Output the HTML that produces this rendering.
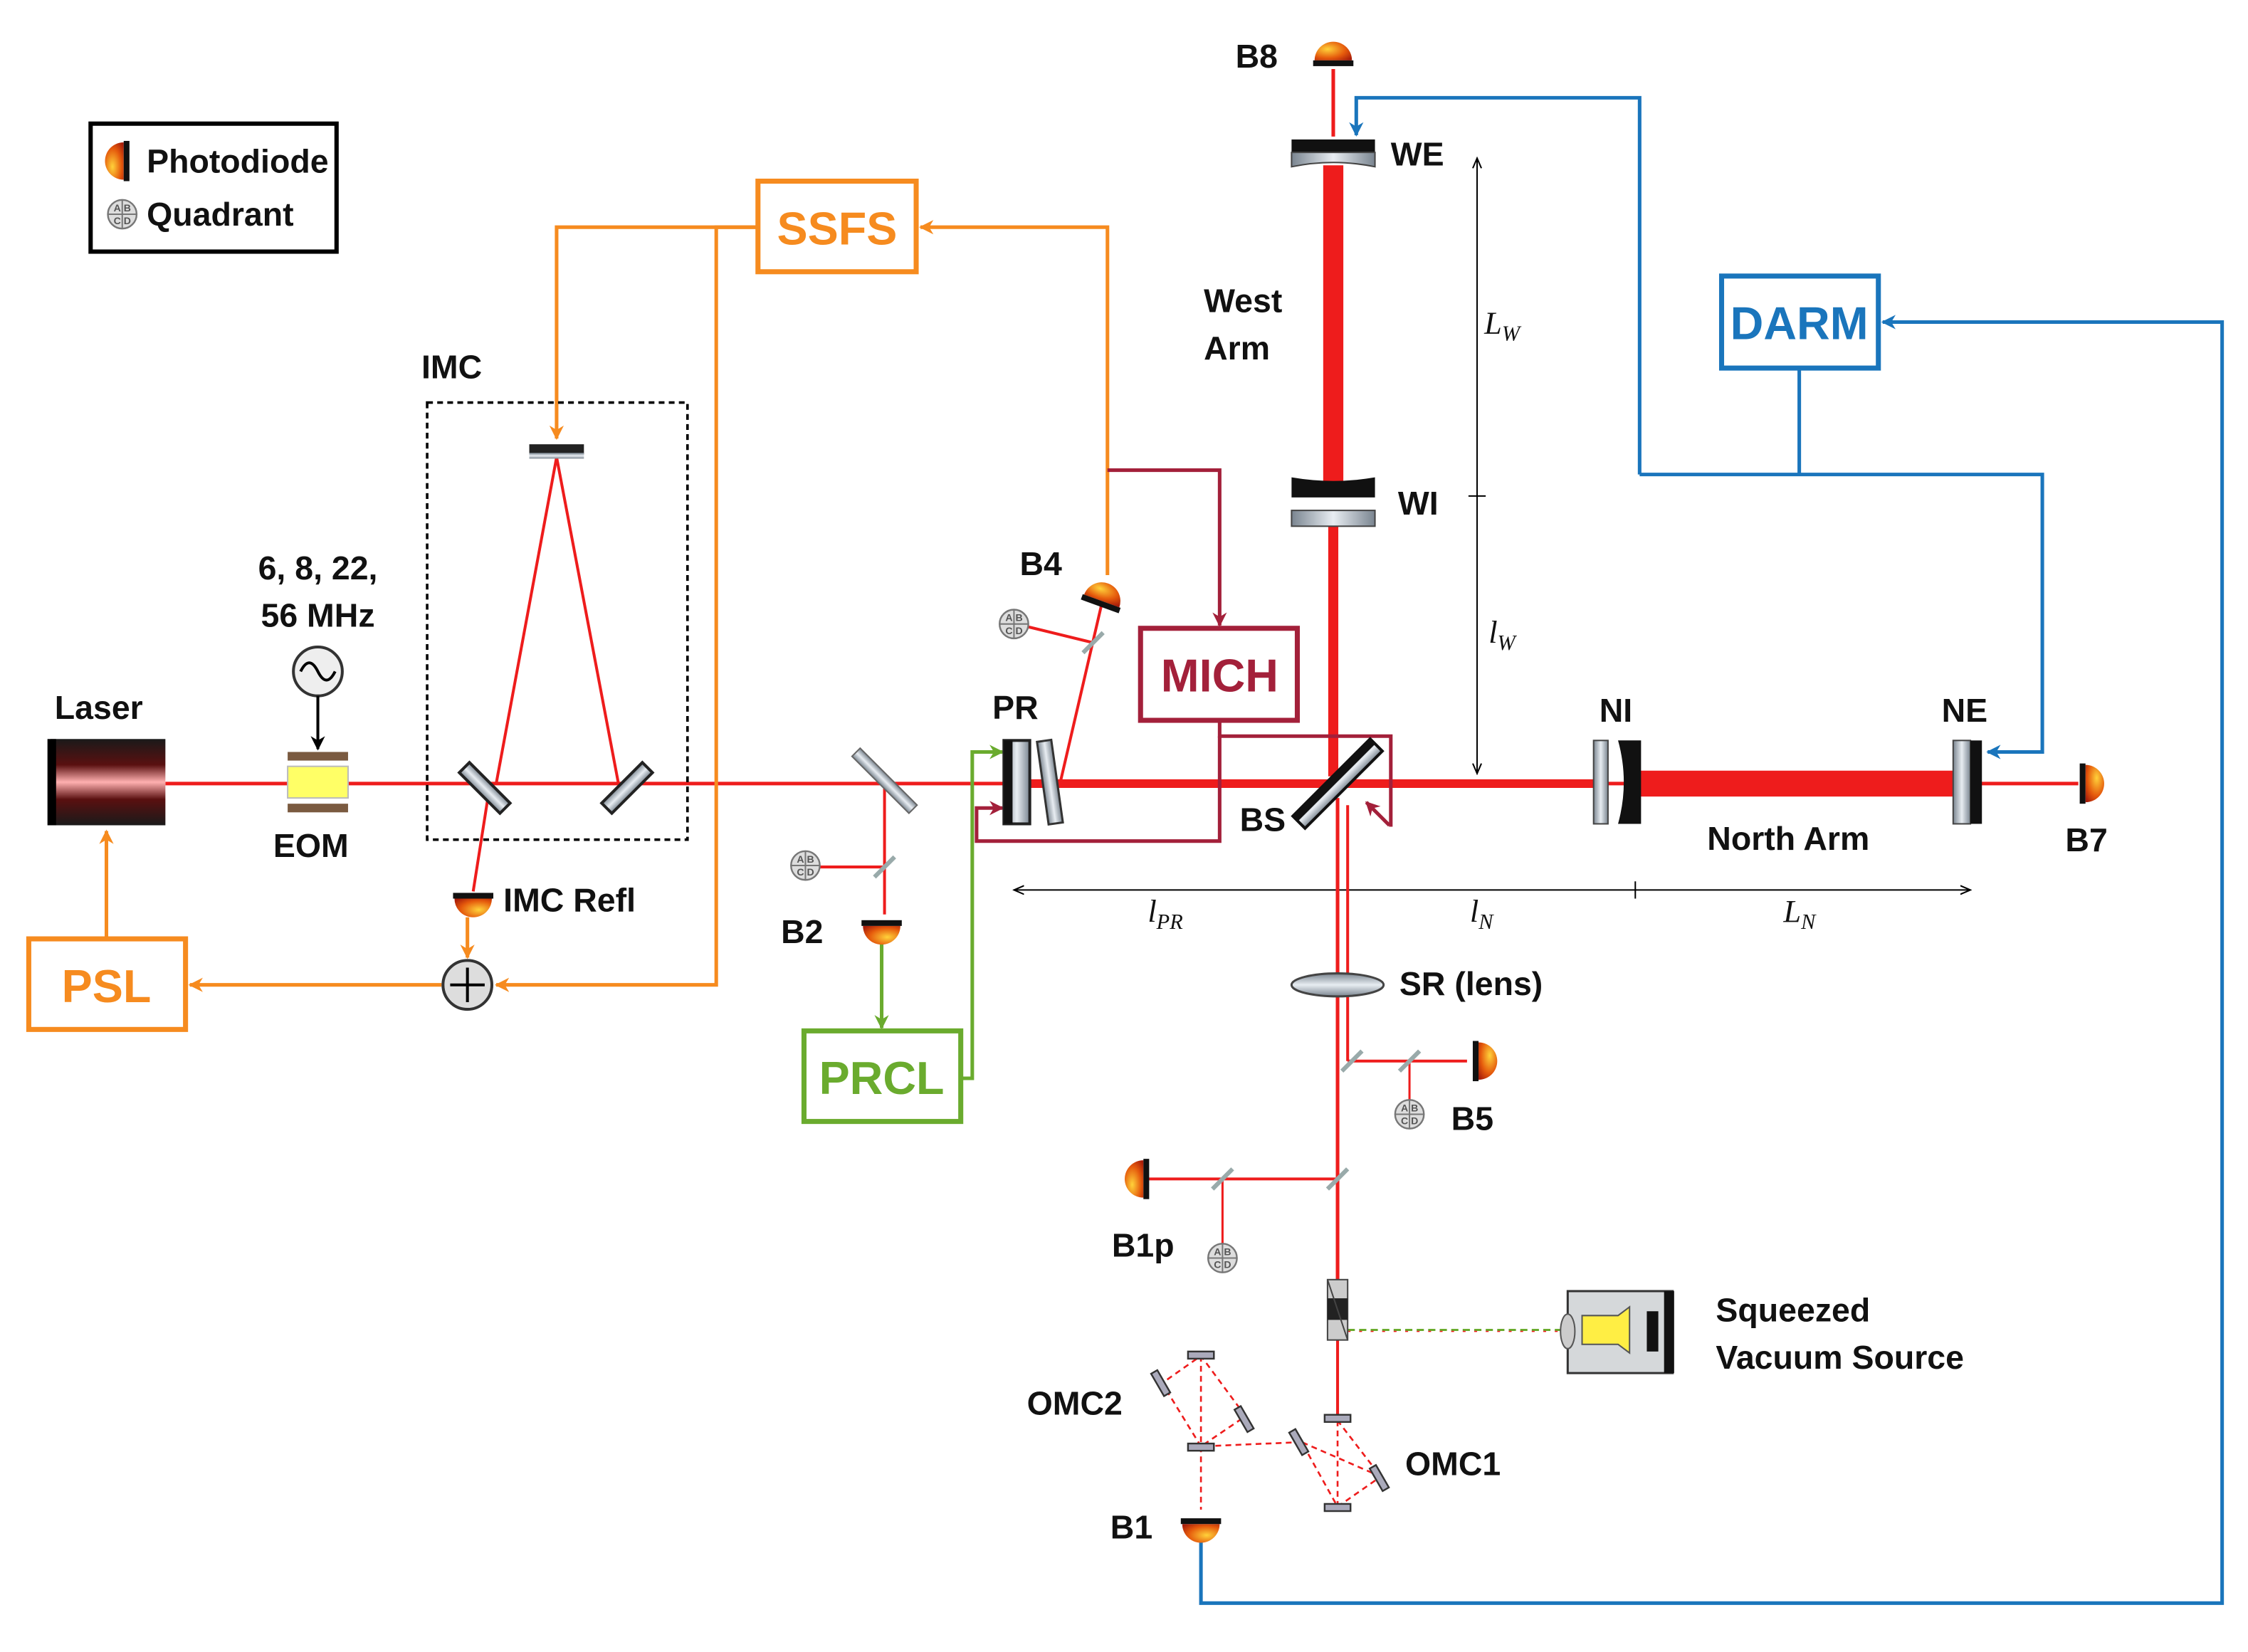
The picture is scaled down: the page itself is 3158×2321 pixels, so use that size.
<!DOCTYPE html>
<html><head><meta charset="utf-8"><style>
html,body{margin:0;padding:0;background:#fff}
svg{display:block}
text{font-family:"Liberation Sans",sans-serif;font-weight:bold}
.lab{font-size:23px;fill:#111}
.it{font-family:"Liberation Serif",serif;font-style:italic;font-weight:normal;font-size:22px;fill:#111}
</style></head><body>
<svg width="3158" height="2321" viewBox="0 0 1563 1149" preserveAspectRatio="none" xmlns="http://www.w3.org/2000/svg">
<defs>
<radialGradient id="pd" cx="0.35" cy="0.4" r="0.8"><stop offset="0" stop-color="#ffd23a"/><stop offset="0.6" stop-color="#e55a0c"/><stop offset="1" stop-color="#a81d0a"/></radialGradient>
<linearGradient id="las" x1="0" y1="0" x2="0" y2="1"><stop offset="0" stop-color="#1a1a1a"/><stop offset="0.3" stop-color="#5a1010"/><stop offset="0.5" stop-color="#ffb0b0"/><stop offset="0.7" stop-color="#5a1010"/><stop offset="1" stop-color="#1a1a1a"/></linearGradient>
<linearGradient id="gl" x1="0" y1="0" x2="1" y2="0"><stop offset="0" stop-color="#7a8590"/><stop offset="0.5" stop-color="#e8edf2"/><stop offset="1" stop-color="#7a8590"/></linearGradient>
<linearGradient id="glv" x1="0" y1="0" x2="0" y2="1"><stop offset="0" stop-color="#7a8590"/><stop offset="0.5" stop-color="#e8edf2"/><stop offset="1" stop-color="#7a8590"/></linearGradient>
<marker id="ao" markerWidth="10" markerHeight="10" refX="9" refY="5" orient="auto" markerUnits="userSpaceOnUse"><path d="M0,0 L10,5 L0,10 L3,5z" fill="#f68b1f"/></marker>
<marker id="ab" markerWidth="10" markerHeight="10" refX="9" refY="5" orient="auto" markerUnits="userSpaceOnUse"><path d="M0,0 L10,5 L0,10 L3,5z" fill="#1a75bc"/></marker>
<marker id="ar" markerWidth="10" markerHeight="10" refX="9" refY="5" orient="auto" markerUnits="userSpaceOnUse"><path d="M0,0 L10,5 L0,10 L3,5z" fill="#a3203a"/></marker>
<marker id="ag" markerWidth="10" markerHeight="10" refX="9" refY="5" orient="auto" markerUnits="userSpaceOnUse"><path d="M0,0 L10,5 L0,10 L3,5z" fill="#6aab2e"/></marker>
<marker id="ak" markerWidth="10" markerHeight="10" refX="9" refY="5" orient="auto" markerUnits="userSpaceOnUse"><path d="M0,0 L10,5 L0,10 L3,5z" fill="#000"/></marker>
<marker id="dk" markerWidth="8" markerHeight="8" refX="7" refY="4" orient="auto-start-reverse" markerUnits="userSpaceOnUse"><path d="M0,1 L7,4 L0,7" fill="none" stroke="#000" stroke-width="1"/></marker>
<g id="pdi"><path d="M-13,0 A13,13 0 0 1 13,0 Z" fill="url(#pd)"/><rect x="-14" y="0" width="28" height="4" fill="#111"/></g>
<g id="qd"><circle r="10" fill="#ddd" stroke="#777" stroke-width="1.2"/><line x1="-10" y1="0" x2="10" y2="0" stroke="#777"/><line x1="0" y1="-10" x2="0" y2="10" stroke="#777"/><text x="-6" y="-2" font-size="7" font-weight="normal" fill="#555">A</text><text x="1" y="-2" font-size="7" font-weight="normal" fill="#555">B</text><text x="-6" y="7" font-size="7" font-weight="normal" fill="#555">C</text><text x="1" y="7" font-size="7" font-weight="normal" fill="#555">D</text></g>
<g id="po"><line x1="-7" y1="7" x2="7" y2="-7" stroke="#9aa" stroke-width="3"/></g>
</defs>

<rect x="63" y="86" width="171" height="89" fill="#fff" stroke="#000" stroke-width="3"/>
<use href="#pdi" transform="translate(86,112) rotate(-90)"/>
<text x="102" y="120" class="lab" font-size="20">Photodiode</text>
<use href="#qd" transform="translate(85,149)"/>
<text x="102" y="157" class="lab" font-size="20">Quadrant</text>

<g stroke="#000" stroke-width="1">
<line x1="1027" y1="110" x2="1027" y2="538" marker-start="url(#dk)" marker-end="url(#dk)"/>
<line x1="1021" y1="345" x2="1033" y2="345"/>
<line x1="705" y1="619" x2="1370" y2="619" marker-start="url(#dk)" marker-end="url(#dk)"/>
<line x1="930" y1="613" x2="930" y2="625"/>
<line x1="1137" y1="613" x2="1137" y2="625"/>
</g>
<text x="1032" y="232" class="it">L<tspan font-size="15" dy="5">W</tspan></text>
<text x="1035" y="447" class="it">l<tspan font-size="15" dy="5">W</tspan></text>
<text x="798" y="641" class="it">l<tspan font-size="15" dy="5">PR</tspan></text>
<text x="1022" y="641" class="it">l<tspan font-size="15" dy="5">N</tspan></text>
<text x="1240" y="641" class="it">L<tspan font-size="15" dy="5">N</tspan></text>

<g stroke="#ee1c1c" fill="none">
<line x1="115" y1="545" x2="1445" y2="545" stroke-width="2.5"/>
<line x1="715" y1="545" x2="1110" y2="545" stroke-width="6"/>
<line x1="1138" y1="545" x2="1365" y2="545" stroke-width="18"/>
<line x1="927" y1="115" x2="927" y2="335" stroke-width="14"/>
<line x1="927" y1="365" x2="927" y2="540" stroke-width="7"/>
<line x1="927" y1="48" x2="927" y2="95" stroke-width="2.5"/>
<line x1="345" y1="545" x2="387" y2="318" stroke-width="2"/>
<line x1="387" y1="318" x2="430" y2="545" stroke-width="2"/>
<line x1="340" y1="550" x2="329" y2="620" stroke-width="2"/>
<line x1="615" y1="545" x2="615" y2="636" stroke-width="2"/>
<line x1="615" y1="603" x2="570" y2="603" stroke-width="2"/>
<line x1="737" y1="545" x2="766" y2="420" stroke-width="2"/>
<line x1="760" y1="447" x2="715" y2="436" stroke-width="2"/>
<line x1="930" y1="555" x2="930" y2="900" stroke-width="2.5"/>
<line x1="937" y1="560" x2="937" y2="738" stroke-width="2"/>
<line x1="937" y1="738" x2="1020" y2="738" stroke-width="2"/>
<line x1="980" y1="738" x2="980" y2="765" stroke-width="1.5"/>
<line x1="930" y1="820" x2="796" y2="820" stroke-width="2"/>
<line x1="850" y1="820" x2="850" y2="865" stroke-width="1.5"/>
<line x1="930" y1="930" x2="930" y2="985" stroke-width="2"/>
<g stroke-dasharray="4,3" stroke-width="1.3">
<polyline points="930,988 930,1048 905,1003 960,1027 930,988"/>
<polyline points="930,1048 960,1027"/>
<polyline points="905,1003 835,1006 808,962 835,943 866,985 835,1006"/>
<polyline points="835,943 835,1050"/>
</g>
</g>
<line x1="937" y1="925" x2="1090" y2="925" stroke="#6aab2e" stroke-width="1.5" stroke-dasharray="5,3"/>
<line x1="937" y1="926" x2="1090" y2="926" stroke="#ee1c1c" stroke-width="0.8" stroke-dasharray="2,6"/>

<g stroke="#f68b1f" stroke-width="2.5" fill="none">
<polyline points="527,158 387,158 387,305" marker-end="url(#ao)"/>
<polyline points="527,158 498,158 498,685 345,685" marker-end="url(#ao)"/>
<line x1="307" y1="685" x2="132" y2="685" marker-end="url(#ao)"/>
<line x1="325" y1="638" x2="325" y2="666" marker-end="url(#ao)"/>
<line x1="74" y1="653" x2="74" y2="578" marker-end="url(#ao)"/>
<polyline points="770,400 770,158 640,158" marker-end="url(#ao)"/>
</g>
<g stroke="#1a75bc" stroke-width="2.5" fill="none">
<polyline points="1251,256 1251,330"/>
<polyline points="1140,330 1420,330 1420,523 1382,523" marker-end="url(#ab)"/>
<polyline points="1140,330 1140,68 943,68 943,94" marker-end="url(#ab)"/>
<polyline points="835,1072 835,1115 1545,1115 1545,224 1309,224" marker-end="url(#ab)"/>
</g>
<g stroke="#a3203a" stroke-width="2.5" fill="none">
<polyline points="770,327 848,327 848,435" marker-end="url(#ar)"/>
<polyline points="848,501 848,512 967,512 967,575"/>
<line x1="966" y1="574" x2="950" y2="558" marker-end="url(#ar)"/>
<polyline points="848,512 848,585 679,585 679,562 697,562" marker-end="url(#ar)"/>
</g>
<g stroke="#6aab2e" stroke-width="2.5" fill="none">
<line x1="613" y1="656" x2="613" y2="715" marker-end="url(#ag)"/>
<polyline points="668,750 676,750 676,523 697,523" marker-end="url(#ag)"/>
</g>

<g stroke-width="3.5" fill="#fff">
<rect x="527" y="126" width="110" height="63" stroke="#f68b1f"/>
<rect x="20" y="653" width="109" height="63" stroke="#f68b1f"/>
<rect x="1197" y="192" width="109" height="64" stroke="#1a75bc"/>
<rect x="793" y="437" width="109" height="64" stroke="#a3203a"/>
<rect x="559" y="717" width="109" height="63" stroke="#6aab2e"/>
</g>
<text x="582" y="170" text-anchor="middle" font-size="32" fill="#f68b1f">SSFS</text>
<text x="74" y="697" text-anchor="middle" font-size="32" fill="#f68b1f">PSL</text>
<text x="1251" y="236" text-anchor="middle" font-size="32" fill="#1a75bc">DARM</text>
<text x="848" y="481" text-anchor="middle" font-size="32" fill="#a3203a">MICH</text>
<text x="613" y="761" text-anchor="middle" font-size="32" fill="#6aab2e">PRCL</text>

<rect x="297" y="280" width="181" height="304" fill="none" stroke="#000" stroke-width="1.8" stroke-dasharray="4,3"/>
<rect x="368" y="309" width="38" height="7" fill="#222"/>
<rect x="368" y="315" width="38" height="4" fill="url(#glv)"/>
<g transform="translate(337,548) rotate(45)"><rect x="-20" y="-5" width="40" height="10" fill="url(#glv)" stroke="#222" stroke-width="2"/></g>
<g transform="translate(436,548) rotate(-45)"><rect x="-20" y="-5" width="40" height="10" fill="url(#glv)" stroke="#222" stroke-width="2"/></g>
<text x="293" y="263" class="lab">IMC</text>

<rect x="35" y="514" width="80" height="60" fill="url(#las)"/>
<rect x="33" y="514" width="6" height="60" fill="#000"/>
<text x="38" y="500" class="lab">Laser</text>
<rect x="200" y="523" width="42" height="6" fill="#7a5a40"/>
<rect x="200" y="533" width="42" height="22" fill="#ffff66" stroke="#bbb"/>
<rect x="200" y="559" width="42" height="6" fill="#7a5a40"/>
<text x="190" y="596" class="lab">EOM</text>
<circle cx="221" cy="467" r="17" fill="#eee" stroke="#333" stroke-width="2"/>
<path d="M209,467 q6,-12 12,0 t12,0" fill="none" stroke="#000" stroke-width="2"/>
<line x1="221" y1="484" x2="221" y2="521" stroke="#000" stroke-width="2" marker-end="url(#ak)"/>
<text x="221" y="403" text-anchor="middle" class="lab">6, 8, 22,</text>
<text x="221" y="436" text-anchor="middle" class="lab">56 MHz</text>

<circle cx="325" cy="685" r="17" fill="#ddd" stroke="#333" stroke-width="2"/>
<line x1="313" y1="685" x2="337" y2="685" stroke="#000" stroke-width="2"/>
<line x1="325" y1="673" x2="325" y2="697" stroke="#000" stroke-width="2"/>
<use href="#pdi" transform="translate(329,625) rotate(180)"/>
<text x="350" y="634" class="lab">IMC Refl</text>

<g transform="translate(615,543) rotate(45)"><rect x="-28" y="-4" width="56" height="8" fill="url(#glv)" stroke="#666"/></g>
<use href="#po" transform="translate(615,603)"/>
<use href="#qd" transform="translate(560,602)"/>
<use href="#pdi" transform="translate(613,644) rotate(180)"/>
<text x="543" y="656" class="lab">B2</text>
<use href="#po" transform="translate(760,447)"/>
<use href="#qd" transform="translate(705,434)"/>
<use href="#pdi" transform="translate(766,418) rotate(20)"/>
<text x="709" y="400" class="lab">B4</text>

<rect x="698" y="515" width="18" height="58" fill="url(#gl)" stroke="#222" stroke-width="2"/>
<rect x="698" y="515" width="6" height="58" fill="#111"/>
<g transform="translate(730,544) rotate(-8)"><rect x="-5" y="-29" width="10" height="58" fill="url(#gl)" stroke="#333" stroke-width="1.5"/></g>
<text x="690" y="500" class="lab">PR</text>

<g transform="translate(930,545) rotate(-45)"><rect x="-38" y="-6" width="76" height="12" fill="url(#glv)" stroke="#111" stroke-width="2"/><rect x="-38" y="-6" width="76" height="5" fill="#111"/></g>
<text x="862" y="578" class="lab">BS</text>

<rect x="1108" y="515" width="10" height="58" fill="url(#gl)" stroke="#444"/>
<path d="M1125,515 h16 v58 h-16 q8,-29 0,-58z" fill="#111"/>
<rect x="1358" y="515" width="12" height="58" fill="url(#gl)" stroke="#444"/>
<rect x="1370" y="515" width="8" height="58" fill="#111"/>
<text x="1112" y="502" class="lab">NI</text>
<text x="1350" y="502" class="lab">NE</text>
<text x="1187" y="591" class="lab">North Arm</text>
<use href="#pdi" transform="translate(1450,545) rotate(90)"/>
<text x="1436" y="592" class="lab">B7</text>

<rect x="898" y="97" width="58" height="9" fill="#111"/>
<path d="M898,106 h58 v10 q-29,-6 -58,0z" fill="url(#gl)" stroke="#444"/>
<text x="967" y="115" class="lab">WE</text>
<path d="M898,332 q29,5 58,0 v14 h-58z" fill="#111"/>
<rect x="898" y="355" width="58" height="11" fill="url(#gl)" stroke="#444"/>
<text x="972" y="358" class="lab">WI</text>
<use href="#pdi" transform="translate(927,42)"/>
<text x="859" y="47" class="lab">B8</text>
<text x="837" y="217" class="lab">West</text>
<text x="837" y="250" class="lab">Arm</text>

<ellipse cx="930" cy="685" rx="32" ry="8" fill="url(#glv)" stroke="#444" stroke-width="1.5"/>
<text x="973" y="692" class="lab">SR (lens)</text>
<use href="#po" transform="translate(940,738)"/>
<use href="#po" transform="translate(980,738)"/>
<use href="#qd" transform="translate(980,775)"/>
<use href="#pdi" transform="translate(1028,738) rotate(90)"/>
<text x="1009" y="786" class="lab">B5</text>
<use href="#po" transform="translate(930,820)"/>
<use href="#po" transform="translate(850,820)"/>
<use href="#qd" transform="translate(850,875)"/>
<use href="#pdi" transform="translate(795,820) rotate(-90)"/>
<text x="773" y="874" class="lab">B1p</text>

<rect x="923" y="890" width="14" height="42" fill="#ccc" stroke="#444"/>
<rect x="923" y="903" width="14" height="15" fill="#222"/>
<line x1="923" y1="890" x2="937" y2="932" stroke="#444"/>

<rect x="1090" y="898" width="73" height="57" fill="#d5d8da" stroke="#333" stroke-width="1.5"/>
<rect x="1157" y="898" width="7" height="57" fill="#111"/>
<rect x="1145" y="912" width="8" height="28" fill="#111"/>
<path d="M1100,915 h25 l8,-6 v32 l-8,-6 h-25z" fill="#ffee44" stroke="#555"/>
<ellipse cx="1090" cy="926" rx="5" ry="12" fill="#ccc" stroke="#555"/>
<text x="1193" y="919" class="lab">Squeezed</text>
<text x="1193" y="952" class="lab">Vacuum Source</text>

<g fill="#aab" stroke="#333" stroke-width="1.2">
<rect x="921" y="984" width="18" height="5"/>
<rect x="921" y="1046" width="18" height="5"/>
<g transform="translate(903,1003) rotate(60)"><rect x="-9" y="-2.5" width="18" height="5"/></g>
<g transform="translate(959,1028) rotate(60)"><rect x="-9" y="-2.5" width="18" height="5"/></g>
<rect x="826" y="940" width="18" height="5"/>
<rect x="826" y="1004" width="18" height="5"/>
<g transform="translate(807,962) rotate(60)"><rect x="-9" y="-2.5" width="18" height="5"/></g>
<g transform="translate(865,987) rotate(60)"><rect x="-9" y="-2.5" width="18" height="5"/></g>
</g>
<text x="714" y="984" class="lab">OMC2</text>
<text x="977" y="1026" class="lab">OMC1</text>
<use href="#pdi" transform="translate(835,1060) rotate(180)"/>
<text x="772" y="1070" class="lab">B1</text>
</svg>
</body></html>
